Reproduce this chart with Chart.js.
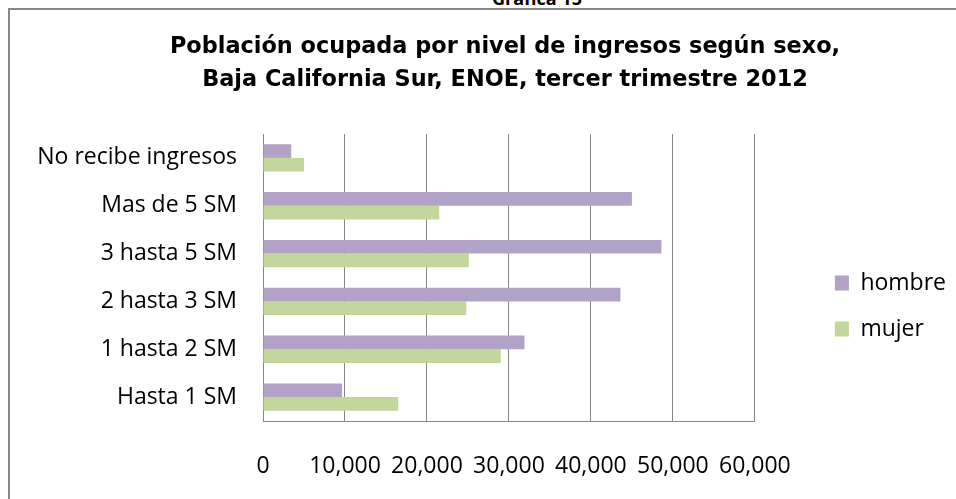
<!DOCTYPE html>
<html>
<head>
<meta charset="utf-8">
<script src="https://cdn.jsdelivr.net/npm/chart.js@4/dist/chart.umd.min.js"></script>
<style>
  html, body { margin: 0; padding: 0; background: #fff; overflow: hidden; width: 956px; height: 499px; }
  #frame { position: absolute; left: 8px; top: 8px; width: 1000px; height: 600px; border-left: 2px solid #878787; border-top: 2px solid #878787; background: #fff; }
  #sup { position: absolute; left: 492px; top: -14px; font: bold 18px "Open Sans", sans-serif; color: #000; white-space: nowrap; }
  #c { position: absolute; left: 0; top: 0; }
</style>
</head>
<body>
<div id="frame"></div>
<div id="sup">Gráfica 15</div>
<canvas id="c" width="956" height="499"></canvas>
<script>
const categories = ['No recibe ingresos', 'Mas de 5 SM', '3 hasta 5 SM', '2 hasta 3 SM', '1 hasta 2 SM', 'Hasta 1 SM'];
const hombre = [3450, 45000, 48600, 43600, 31900, 9650];
const mujer = [5000, 21500, 25100, 24800, 29000, 16500];
const seriesNames = ['hombre', 'mujer'];
const titleLines = ['Población ocupada por nivel de ingresos según sexo,', 'Baja California Sur, ENOE, tercer trimestre 2012'];
const xTicks = [0, 10000, 20000, 30000, 40000, 50000, 60000];

const FONT = '"Open Sans", sans-serif';
const TITLE_FONT = '"DejaVu Sans", sans-serif';
const GRID = '#868686';

// shift the title box so it is centred where the reference centres it
const titleShift = {
  id: 'titleShift',
  afterLayout(chart) {
    const t = chart.titleBlock;
    if (t) { t.left += 22; t.right += 22; }
  }
};

new Chart(document.getElementById('c'), {
  type: 'bar',
  data: {
    labels: categories,
    datasets: [
      { label: seriesNames[0], data: hombre, backgroundColor: '#B3A2C7', borderWidth: 0 },
      { label: seriesNames[1], data: mujer, backgroundColor: '#C3D69B', borderWidth: 0 }
    ]
  },
  plugins: [titleShift],
  options: {
    indexAxis: 'y',
    responsive: false,
    animation: false,
    categoryPercentage: 0.571,
    barPercentage: 1,
    layout: { padding: { left: 10, right: 0, top: 0, bottom: 20 } },
    scales: {
      x: {
        min: 0, max: 60000,
        afterBuildTicks: s => { s.ticks = xTicks.map(v => ({ value: v })); },
        grid: { color: GRID, lineWidth: 1, drawTicks: false },
        border: { display: true, color: GRID, width: 1 },
        ticks: { color: '#000', font: { family: FONT, size: 23 }, padding: 32,
                 maxRotation: 0, minRotation: 0, autoSkip: false,
                 callback: v => v.toLocaleString('en-US') },
        afterFit: s => { s.height = 58; }
      },
      y: {
        grid: { display: false, drawTicks: false },
        border: { display: true, color: GRID, width: 1 },
        ticks: { color: '#000', font: { family: FONT, size: 23 }, padding: 26 },
        afterFit: s => { s.width = 253; }
      },
      gap: {
        type: 'category', position: 'right', display: true,
        grid: { display: false, drawTicks: false },
        border: { display: false },
        ticks: { display: false },
        afterFit: s => { s.width = 57; }
      }
    },
    plugins: {
      title: {
        display: true, text: titleLines, color: '#000',
        font: { family: TITLE_FONT, size: 22.4, weight: 'bold', lineHeight: 33 / 22.4 },
        padding: { top: 30.5, bottom: 37.5 }
      },
      legend: {
        position: 'right', fullSize: false,
        title: { display: true, text: '', font: { size: 12, lineHeight: 1 }, padding: { top: 45, bottom: 0 } },
        labels: { color: '#000', font: { family: FONT, size: 23 }, boxWidth: 14, boxHeight: 15, padding: 23 }
      },
      tooltip: { enabled: false }
    }
  }
});
</script>
</body>
</html>
